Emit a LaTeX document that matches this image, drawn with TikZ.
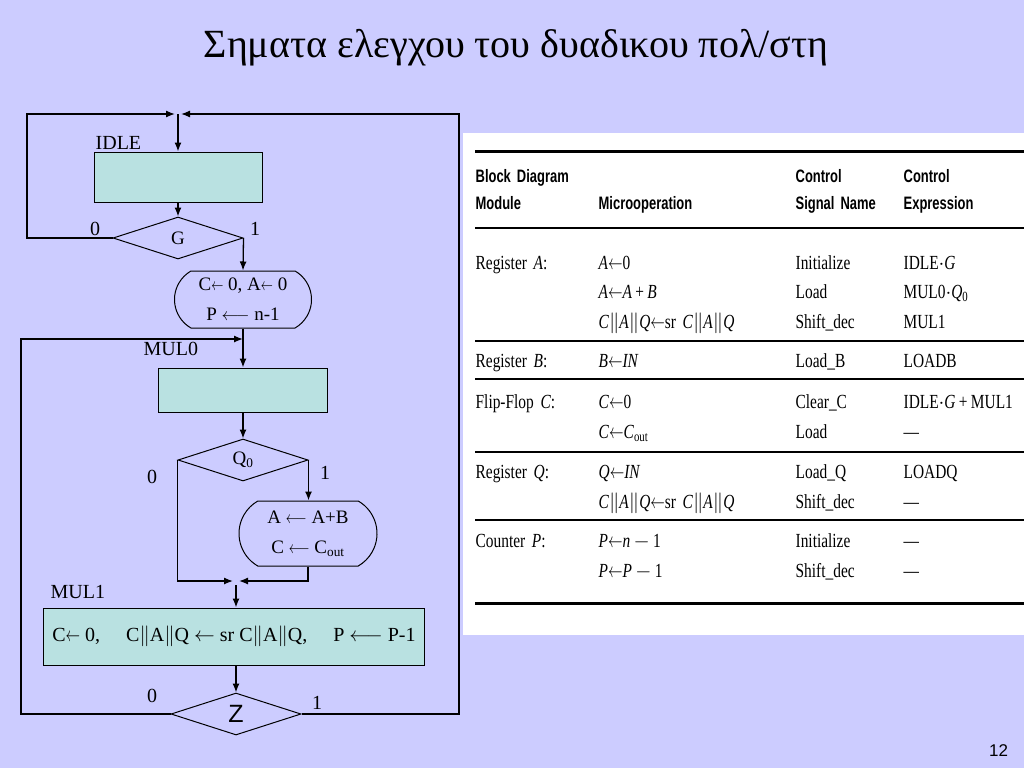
\documentclass[tikz,border=0pt]{standalone}
\usepackage{fontspec}
\setmainfont{Liberation Serif}
\newfontfamily\sansfont{Liberation Sans}
\newfontfamily\tabfont[FakeStretch=0.77]{Liberation Serif}
\newfontfamily\tabhead[FakeStretch=0.72]{Liberation Sans}
\usetikzlibrary{matrix,positioning,arrows.meta,shapes.geometric,shapes.misc}
\definecolor{slidebg}{RGB}{204,204,255}
\definecolor{boxfill}{RGB}{185,225,225}
\newcommand{\ltarr}{\scalebox{0.7}[1]{$\leftarrow$}}
\newcommand{\lgarr}{\scalebox{0.75}[1]{$\longleftarrow$}}
\newcommand{\dvbar}{$\|$}
\tikzset{
stbox/.style={rectangle, draw=black, fill=boxfill, line width=1pt, inner sep=0pt},
decision/.style={diamond, draw=black, line width=1pt, inner sep=0pt,
  minimum width=130pt, minimum height=42pt},
opbox/.style={rounded rectangle, rounded rectangle arc length=120,
  draw=black, line width=1pt, align=center, inner sep=0pt},
flowtxt/.style={font=\fontsize{19}{30}\selectfont},
lbl/.style={font=\fontsize{20}{24}\selectfont, inner sep=0pt},
tabmat/.style={
  matrix of nodes,
  nodes in empty cells,
  inner sep=0pt,
  column sep=0pt,
  nodes={inner sep=0pt, align=left, text height=14pt, text depth=5pt,
    font=\tabfont\fontsize{20}{22}\selectfont},
  row 1/.style={nodes={font=\tabhead\bfseries\fontsize{18}{20}\selectfont}},
  row 2/.style={nodes={font=\tabhead\bfseries\fontsize{18}{20}\selectfont}},
  column 1/.style={nodes={text width=123pt}},
  column 2/.style={nodes={text width=197pt}},
  column 3/.style={nodes={text width=108pt}},
  column 4/.style={nodes={text width=121pt}}
  }
}
\begin{document}
\begin{tikzpicture}[x=1pt,y=-1pt,>={Latex[length=9pt,width=7pt]},line width=1.3pt]
\useasboundingbox (0,0) rectangle (1024,768);
\fill[slidebg] (0,0) rectangle (1024,768);

\node[font=\fontsize{40}{40}\selectfont, anchor=base] (title) at (516,58)
  {Σηματα ελεγχου του δυαδικου πολ/στη};
\node[font=\sansfont\fontsize{17}{17}\selectfont, anchor=base east] (pagenum)
  at (1012,756) {12};

\node[stbox, minimum width=168pt, minimum height=50pt] (idle) at (178,177) {};
\node[decision, flowtxt] (g) at (178,238) {G};
\node[opbox, flowtxt, minimum width=137pt, minimum height=57pt] (init) at (243,299.5)
  {C\ltarr\ 0, A\ltarr\ 0\\P $\longleftarrow$ n-1};
\node[stbox, minimum width=169pt, minimum height=44pt] (mul0) at (243,390) {};
\node[decision, flowtxt] (q0) at (243,460) {Q\textsubscript{0}};
\node[opbox, flowtxt, minimum width=138pt, minimum height=65pt] (add) at (308,533.5)
  {A \lgarr\ A+B\\C \lgarr\ C\textsubscript{out}};
\node[stbox, font=\fontsize{20}{24}\selectfont, minimum width=381pt, minimum height=57pt]
  (mul1) at (234,636.5)
  {C\ltarr\ 0,\hspace{1.3em}C\dvbar A\dvbar Q $\leftarrow$ sr C\dvbar A\dvbar Q,\hspace{1.3em}P $\longleftarrow$ P-1};
\node[decision, font=\sansfont\fontsize{25}{25}\selectfont] (z) at (236,714) {Z};

\node[lbl, anchor=base west] (lblidle) at (95,149) {IDLE};
\node[lbl, anchor=base west] (lblmul0) at (143,355) {MUL0};
\node[lbl, anchor=base west] (lblmul1) at (50,598) {MUL1};
\node[lbl] (g0) at (95,229) {0};
\node[lbl] (g1) at (255,229) {1};
\node[lbl] (q00) at (152,477) {0};
\node[lbl] (q01) at (325,473) {1};
\node[lbl] (z0) at (152,696) {0};
\node[lbl] (z1) at (317,703) {1};

\coordinate (topjoin) at (178,114);
\coordinate (loopL) at (27,114);
\coordinate (loopR) at (459,114);
\coordinate (mul0join) at (243,339);
\coordinate (loopM) at (21,339);
\coordinate (mul1join) at (236,581);

\draw[->] (topjoin) -- (idle.north);
\draw[->] (idle.south) -- (g.north);
\draw[->] (g.west) -| (loopL) -- ([xshift=-3pt]topjoin);
\draw[->] (g.east) -- (init.north);
\draw[->] (init.south) -- (mul0.north);
\draw[->] (mul0.south) -- (q0.north);
\draw[->] (q0.east) -- (q0.east |- add.north);
\draw[->] (q0.west) |- ([xshift=-3pt]mul1join);
\draw[->] (add.south) |- ([xshift=3pt]mul1join);
\draw[->] ([yshift=-4pt]mul1join) -- (mul1join |- mul1.north);
\draw[->] (mul1.south -| z.north) -- (z.north);
\draw[->] (z.west) -| (loopM) -- (mul0join);
\draw[->] (z.east) -| (loopR) -- ([xshift=3pt]topjoin);

\fill[white] (463,133) rectangle (1024,635);
\matrix[tabmat, anchor=north west] at (475,168) (tab)
{
  Block Diagram & & Control & Control \\[8pt]
  Module & Microoperation & Signal Name & Expression \\[41pt]
  Register \textit{A}: & \textit{A}\ltarr0 & Initialize & IDLE$\cdot$\textit{G} \\[10pt]
  & \textit{A}\ltarr\textit{A}\,+\,\textit{B} & Load & MUL0$\cdot$\textit{Q}\textsubscript{0} \\[11pt]
  & \textit{C}\dvbar\textit{A}\dvbar\textit{Q}\ltarr sr \textit{C}\dvbar\textit{A}\dvbar\textit{Q}
    & Shift\_dec & MUL1 \\[20pt]
  Register \textit{B}: & \textit{B}\ltarr\textit{IN} & Load\_B & LOADB \\[22pt]
  Flip-Flop \textit{C}: & \textit{C}\ltarr0 & Clear\_C & IDLE$\cdot$\textit{G}\,+\,MUL1 \\[11pt]
  & \textit{C}\ltarr\textit{C}\textsubscript{out} & Load & — \\[21pt]
  Register \textit{Q}: & \textit{Q}\ltarr\textit{IN} & Load\_Q & LOADQ \\[11pt]
  & \textit{C}\dvbar\textit{A}\dvbar\textit{Q}\ltarr sr \textit{C}\dvbar\textit{A}\dvbar\textit{Q}
    & Shift\_dec & — \\[20pt]
  Counter \textit{P}: & \textit{P}\ltarr\textit{n}\,$-$\,1 & Initialize & — \\[11pt]
  & \textit{P}\ltarr\textit{P}\,$-$\,1 & Shift\_dec & — \\
};

\draw[line width=3pt] (475,151) -- (1024,151);
\draw[line width=2.5pt] (475,228) -- (1024,228);
\draw[line width=1.8pt] (475,341) -- (1024,341);
\draw[line width=1.8pt] (475,379) -- (1024,379);
\draw[line width=1.8pt] (475,452) -- (1024,452);
\draw[line width=1.8pt] (475,520) -- (1024,520);
\draw[line width=3pt] (475,603) -- (1024,603);

\end{tikzpicture}
\end{document}
